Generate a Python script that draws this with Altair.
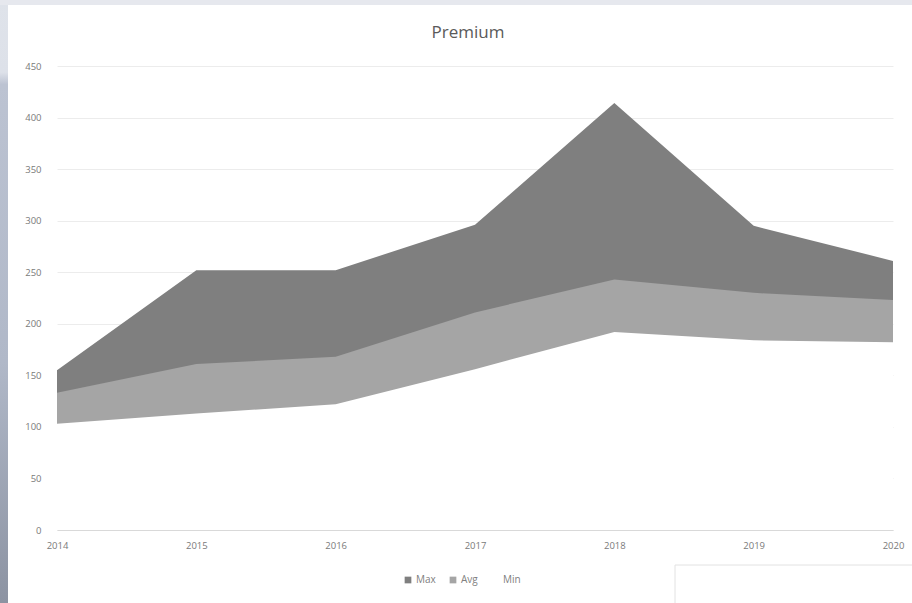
import altair as alt
import pandas as pd

years = ["2014", "2015", "2016", "2017", "2018", "2019", "2020"]
series = ["Max", "Avg", "Min"]
max_vals = [155, 252, 252, 296, 414, 295, 261]
avg_vals = [133, 161, 168, 211, 243, 230, 223]
min_vals = [103, 113, 122, 156, 192, 184, 182]
colors = ["#7f7f7f", "#a5a5a5", "#ffffff"]
y_ticks = [0, 50, 100, 150, 200, 250, 300, 350, 400, 450]

rows = []
for name, vals in zip(series, [max_vals, avg_vals, min_vals]):
    for yr, v in zip(years, vals):
        rows.append({"Year": yr, "Series": name, "Value": v})
df = pd.DataFrame(rows)

W, H = 836, 464
PL, PT, PR, PB = 57, 66, 19, 73

color_enc = alt.Color(
    "Series:N",
    scale=alt.Scale(domain=series, range=colors),
    legend=alt.Legend(
        title=None, orient="none", direction="horizontal",
        legendX=346, legendY=509, symbolType="square", symbolSize=45,
        symbolStrokeWidth=0, labelFontSize=10, labelColor="#808080",
        labelFont="Open Sans", columnPadding=12, labelOffset=3,
    ),
)

x_enc = alt.X(
    "Year:O",
    scale=alt.Scale(type="point", padding=0, domain=years),
    axis=alt.Axis(
        title=None, labelAngle=0, labelFontSize=9.5, labelColor="#7a7a7a",
        labelFont="Open Sans", ticks=False, domain=True, domainColor="#d9d9d9",
        grid=False, labelPadding=10, zindex=1,
    ),
)
y_enc = alt.Y(
    "Value:Q",
    scale=alt.Scale(domain=[0, 450], nice=False),
    axis=alt.Axis(
        title=None, values=y_ticks, labelFontSize=9.5, labelColor="#7a7a7a",
        labelFont="Open Sans", ticks=False, domain=False, grid=True,
        gridColor="#ececec", gridWidth=1, labelPadding=16,
    ),
)

grad = alt.Gradient(
    gradient="linear", x1=0, y1=0, x2=0, y2=1,
    stops=[
        alt.GradientStop(color="#dfe3ea", offset=0),
        alt.GradientStop(color="#dde1e9", offset=0.12),
        alt.GradientStop(color="#bcc3d2", offset=0.14),
        alt.GradientStop(color="#b0b8c8", offset=0.6),
        alt.GradientStop(color="#8c93a2", offset=1),
    ],
)
left_strip = alt.Chart(pd.DataFrame({"a": [0]})).mark_rect(fill=grad, stroke=None).encode(
    x=alt.value(-PL), x2=alt.value(-PL + 8), y=alt.value(-PT), y2=alt.value(H + PB)
)
top_strip = alt.Chart(pd.DataFrame({"a": [0]})).mark_rect(fill="#e6e8ee").encode(
    x=alt.value(-PL), x2=alt.value(W + PR), y=alt.value(-PT), y2=alt.value(-PT + 5)
)
box = alt.Chart(pd.DataFrame({"a": [0]})).mark_rect(
    fill="#ffffff", stroke="#e2e2e2", strokeWidth=1
).encode(
    x=alt.value(675 - PL), x2=alt.value(W + PR + 5), y=alt.value(565 - PT), y2=alt.value(H + PB + 5)
)

layers = [left_strip, top_strip]
for s in series:
    layers.append(
        alt.Chart(df).transform_filter(alt.datum.Series == s)
        .mark_area(opacity=1, interpolate="linear")
        .encode(x=x_enc, y=y_enc, color=color_enc)
    )
layers.append(box)

chart = alt.layer(*layers).properties(
    width=W, height=H,
    padding={"left": PL, "top": PT, "right": PR, "bottom": PB},
    autosize=alt.AutoSizeParams(type="none"),
    background="#ffffff",
    title=alt.TitleParams(
        "Premium", fontSize=17, font="Open Sans", fontWeight="normal",
        color="#5a5a5a", anchor="middle", frame="group", offset=22, dx=-7, dy=64,
    ),
).configure_view(stroke=None)

chart.save("out.html", embed_options={"renderer": "svg", "actions": False})
